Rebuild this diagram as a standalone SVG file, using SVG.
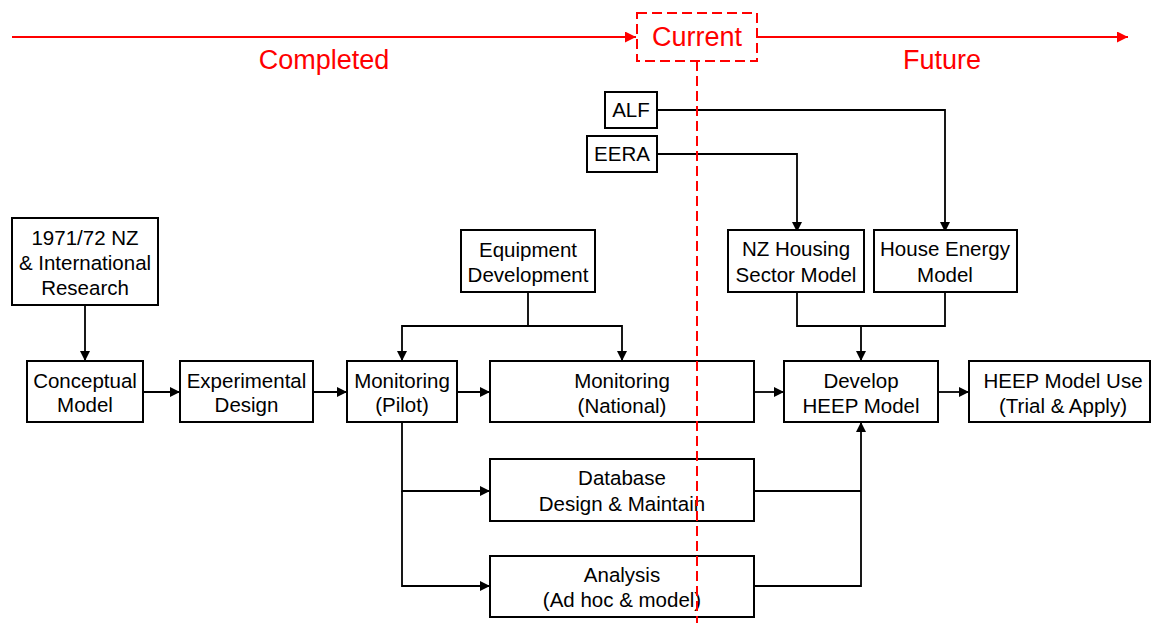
<svg xmlns="http://www.w3.org/2000/svg" width="1152" height="623" viewBox="0 0 1152 623">
  <style>
    .box { fill: #ffffff; stroke: #000000; stroke-width: 2; }
    .lbl { font-family: "Liberation Sans", Arial, sans-serif; font-size: 20.5px; fill: #000000; text-anchor: middle; }
    .red { font-family: "Liberation Sans", Arial, sans-serif; font-size: 27px; fill: #ff0000; text-anchor: middle; }
    .conn { fill: none; stroke: #000000; stroke-width: 1.8; }
    .time { fill: none; stroke: #ff0000; stroke-width: 2; }
    .dash { fill: none; stroke: #ff0000; stroke-width: 2; stroke-dasharray: 10 5; }
  </style>
  <defs>
    <marker id="arrow" viewBox="0 0 10 10" refX="10" refY="5" markerWidth="10" markerHeight="10" markerUnits="userSpaceOnUse" orient="auto">
      <path d="M0,0 L10,5 L0,10 z" fill="#000000"/>
    </marker>
    <marker id="arrowRed" viewBox="0 0 10 10" refX="10" refY="5" markerWidth="12" markerHeight="11" markerUnits="userSpaceOnUse" orient="auto">
      <path d="M0,0 L10,5 L0,10 z" fill="#ff0000"/>
    </marker>
  </defs>

  <!-- timeline -->
  <g id="timeline">
    <line class="time" x1="12" y1="37" x2="636" y2="37" marker-end="url(#arrowRed)"/>
    <line class="time" x1="757" y1="37" x2="1128" y2="37" marker-end="url(#arrowRed)"/>
    <rect class="dash" x="637" y="13" width="120" height="48" stroke-dasharray="6 4"/>
    <text class="red" x="324" y="69">Completed</text>
    <text class="red" x="697" y="46">Current</text>
    <text class="red" x="942" y="69">Future</text>
  </g>

  <!-- connectors -->
  <g id="connectors">
    <path class="conn" d="M85,305 V361" marker-end="url(#arrow)"/>
    <path class="conn" d="M143,392 H180" marker-end="url(#arrow)"/>
    <path class="conn" d="M313,392 H347" marker-end="url(#arrow)"/>
    <path class="conn" d="M457,392 H490" marker-end="url(#arrow)"/>
    <path class="conn" d="M754,392 H784" marker-end="url(#arrow)"/>
    <path class="conn" d="M938,392 H969" marker-end="url(#arrow)"/>
    <path class="conn" d="M528,292 V326 H402 V361" marker-end="url(#arrow)"/>
    <path class="conn" d="M528,326 H622 V361" marker-end="url(#arrow)"/>
    <path class="conn" d="M402,422 V491 H490" marker-end="url(#arrow)"/>
    <path class="conn" d="M402,491 V586 H490" marker-end="url(#arrow)"/>
    <path class="conn" d="M754,491 H861"/>
    <path class="conn" d="M754,586 H861 V422" marker-end="url(#arrow)"/>
    <path class="conn" d="M657,110 H945 V232" marker-end="url(#arrow)"/>
    <path class="conn" d="M657,154 H797 V232" marker-end="url(#arrow)"/>
    <path class="conn" d="M797,292 V326 H945 V292"/>
    <path class="conn" d="M861,326 V361" marker-end="url(#arrow)"/>
  </g>

  <g id="research">
    <rect class="box" x="12" y="218" width="146" height="87"/>
    <text class="lbl" x="85" y="245">1971/72 NZ</text>
    <text class="lbl" x="85" y="270">&amp; International</text>
    <text class="lbl" x="85" y="295">Research</text>
  </g>
  <g id="conceptual">
    <rect class="box" x="27" y="361" width="116" height="61"/>
    <text class="lbl" x="85" y="388">Conceptual</text>
    <text class="lbl" x="85" y="412">Model</text>
  </g>
  <g id="experimental">
    <rect class="box" x="180" y="361" width="133" height="61"/>
    <text class="lbl" x="246.5" y="388">Experimental</text>
    <text class="lbl" x="246.5" y="412">Design</text>
  </g>
  <g id="pilot">
    <rect class="box" x="347" y="361" width="110" height="61"/>
    <text class="lbl" x="402" y="388">Monitoring</text>
    <text class="lbl" x="402" y="412">(Pilot)</text>
  </g>
  <g id="equipment">
    <rect class="box" x="461" y="230" width="134" height="62"/>
    <text class="lbl" x="528" y="257">Equipment</text>
    <text class="lbl" x="528" y="282">Development</text>
  </g>
  <g id="national">
    <rect class="box" x="490" y="361" width="264" height="61"/>
    <text class="lbl" x="622" y="388">Monitoring</text>
    <text class="lbl" x="622" y="413">(National)</text>
  </g>
  <g id="database">
    <rect class="box" x="490" y="459" width="264" height="62"/>
    <text class="lbl" x="622" y="485">Database</text>
    <text class="lbl" x="622" y="511">Design &amp; Maintain</text>
  </g>
  <g id="analysis">
    <rect class="box" x="490" y="556" width="264" height="61"/>
    <text class="lbl" x="622" y="582">Analysis</text>
    <text class="lbl" x="622" y="607">(Ad hoc &amp; model)</text>
  </g>
  <g id="alf">
    <rect class="box" x="605" y="92" width="52" height="36"/>
    <text class="lbl" x="631" y="117">ALF</text>
  </g>
  <g id="eera">
    <rect class="box" x="587" y="136" width="70" height="36"/>
    <text class="lbl" x="622" y="161">EERA</text>
  </g>
  <g id="housing">
    <rect class="box" x="728" y="230" width="136" height="62"/>
    <text class="lbl" x="796" y="256">NZ Housing</text>
    <text class="lbl" x="796" y="282">Sector Model</text>
  </g>
  <g id="energy">
    <rect class="box" x="874" y="230" width="143" height="62"/>
    <text class="lbl" x="945" y="256">House Energy</text>
    <text class="lbl" x="945" y="282">Model</text>
  </g>
  <g id="develop">
    <rect class="box" x="784" y="361" width="154" height="61"/>
    <text class="lbl" x="861" y="388">Develop</text>
    <text class="lbl" x="861" y="413">HEEP Model</text>
  </g>
  <g id="use">
    <rect class="box" x="969" y="361" width="181" height="61"/>
    <text class="lbl" x="1063" y="388">HEEP Model Use</text>
    <text class="lbl" x="1063" y="413">(Trial &amp; Apply)</text>
  </g>

  <!-- "now" marker drawn over everything -->
  <g id="now-line">
    <line class="dash" x1="697" y1="61" x2="697" y2="623"/>
  </g>
</svg>
